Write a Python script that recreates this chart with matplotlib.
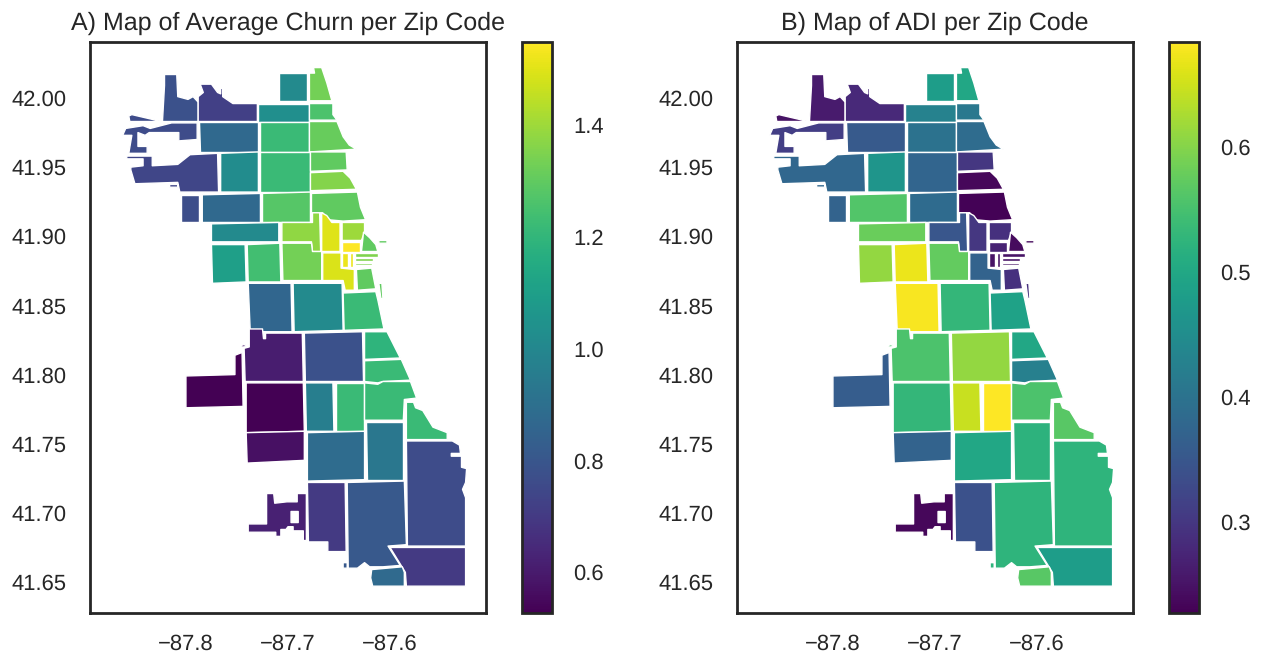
import matplotlib
matplotlib.use("Agg")
import matplotlib.pyplot as plt
from matplotlib.path import Path
from matplotlib.patches import PathPatch
from matplotlib.collections import PatchCollection
from matplotlib.colors import Normalize

plt.rcParams['font.family'] = ['Liberation Sans', 'DejaVu Sans']
plt.rcParams['text.hinting'] = 'no_hinting'
plt.rcParams['text.hinting_factor'] = 1

TITLE_A = "A) Map of Average Churn per Zip Code"
TITLE_B = "B) Map of ADI per Zip Code"
LON_TICKS = [-87.8, -87.7, -87.6]
LAT_TICKS = [41.65, 41.70, 41.75, 41.80, 41.85, 41.90, 41.95, 42.00]
CHURN_TICKS = [0.6, 0.8, 1.0, 1.2, 1.4]
ADI_TICKS = [0.3, 0.4, 0.5, 0.6]
LON_RANGE = (-87.894, -87.506)
LAT_RANGE = (41.6276, 42.0405)
CHURN_RANGE = (0.527, 1.548)
ADI_RANGE = (0.227, 0.684)

# Zone outlines as (longitude, latitude) rings; holes run the opposite way round.
zone_rings = [
 [[(-87.821,42.017),(-87.809,42.017),(-87.808,42.001),(-87.798,41.999),(-87.793,42.001),(-87.788,41.997),(-87.788,41.983),(-87.823,41.983),(-87.821,42.009)]],
 [[(-87.786,42.010),(-87.775,42.010),(-87.769,42.004),(-87.766,42.003),(-87.766,42.007),(-87.764,42.007),(-87.764,42.001),(-87.754,41.996),(-87.730,41.996),(-87.730,41.983),(-87.788,41.983),(-87.788,42.001),(-87.783,42.004)]],
 [[(-87.856,41.987),(-87.853,41.988),(-87.824,41.983),(-87.855,41.983)]],
 [[(-87.862,41.973),(-87.859,41.978),(-87.842,41.980),(-87.835,41.978),(-87.814,41.982),(-87.789,41.982),(-87.789,41.970),(-87.807,41.969),(-87.807,41.975),(-87.836,41.975),(-87.840,41.973),(-87.847,41.975),(-87.847,41.965),(-87.838,41.965),(-87.838,41.960),(-87.856,41.960),(-87.853,41.973)]],
 [[(-87.858,41.958),(-87.833,41.958),(-87.833,41.951),(-87.808,41.952),(-87.796,41.959),(-87.769,41.960),(-87.768,41.932),(-87.806,41.932),(-87.808,41.939),(-87.850,41.938),(-87.854,41.948),(-87.854,41.950),(-87.842,41.951),(-87.842,41.956),(-87.858,41.956)],
  [(-87.816,41.9375),(-87.808,41.9375),(-87.808,41.9355),(-87.816,41.9355)]],
 [[(-87.787,41.983),(-87.729,41.983),(-87.729,41.961),(-87.786,41.961)]],
 [[(-87.709,42.018),(-87.681,42.018),(-87.681,41.998),(-87.709,41.998)]],
 [[(-87.679,42.018),(-87.674,42.018),(-87.675,42.022),(-87.667,42.022),(-87.662,42.011),(-87.657,41.998),(-87.679,41.998)]],
 [[(-87.729,41.996),(-87.679,41.996),(-87.679,41.983),(-87.729,41.983)]],
 [[(-87.679,41.996),(-87.656,41.996),(-87.656,41.988),(-87.652,41.984),(-87.679,41.984)]],
 [[(-87.727,41.983),(-87.679,41.983),(-87.679,41.961),(-87.727,41.961)]],
 [[(-87.679,41.983),(-87.652,41.983),(-87.646,41.972),(-87.640,41.966),(-87.633,41.963),(-87.679,41.961)]],
 [[(-87.766,41.960),(-87.729,41.961),(-87.729,41.932),(-87.766,41.932)]],
 [[(-87.727,41.961),(-87.678,41.961),(-87.678,41.932),(-87.727,41.932)]],
 [[(-87.678,41.961),(-87.643,41.961),(-87.642,41.948),(-87.678,41.947)]],
 [[(-87.678,41.946),(-87.646,41.947),(-87.639,41.942),(-87.633,41.934),(-87.678,41.933)]],
 [[(-87.805,41.930),(-87.787,41.930),(-87.787,41.910),(-87.805,41.910)]],
 [[(-87.784,41.930),(-87.727,41.931),(-87.727,41.910),(-87.784,41.910)]],
 [[(-87.725,41.931),(-87.678,41.932),(-87.678,41.910),(-87.725,41.910)]],
 [[(-87.677,41.931),(-87.632,41.932),(-87.629,41.921),(-87.624,41.912),(-87.646,41.911),(-87.661,41.912),(-87.666,41.917),(-87.677,41.917)]],
 [[(-87.775,41.909),(-87.709,41.910),(-87.709,41.896),(-87.775,41.896)]],
 [[(-87.706,41.910),(-87.676,41.910),(-87.676,41.917),(-87.669,41.917),(-87.668,41.889),(-87.676,41.889),(-87.677,41.896),(-87.706,41.896)]],
 [[(-87.667,41.917),(-87.662,41.915),(-87.657,41.910),(-87.649,41.910),(-87.649,41.889),(-87.667,41.889)]],
 [[(-87.647,41.910),(-87.625,41.910),(-87.625,41.903),(-87.628,41.897),(-87.647,41.897)]],
 [[(-87.626,41.903),(-87.620,41.899),(-87.614,41.894),(-87.612,41.889),(-87.628,41.889)],
  [(-87.611,41.897),(-87.603,41.897),(-87.603,41.895),(-87.611,41.895)]],
 [[(-87.647,41.896),(-87.629,41.896),(-87.629,41.889),(-87.647,41.889)]],
 [[(-87.647,41.888),(-87.641,41.888),(-87.641,41.878),(-87.647,41.878)],
  [(-87.639,41.888),(-87.636,41.888),(-87.636,41.878),(-87.639,41.878)]],
 [[(-87.634,41.888),(-87.612,41.888),(-87.612,41.885),(-87.634,41.885)],
  [(-87.634,41.884),(-87.617,41.884),(-87.617,41.882),(-87.634,41.882)],
  [(-87.634,41.881),(-87.618,41.881),(-87.618,41.879),(-87.634,41.879)]],
 [[(-87.666,41.888),(-87.648,41.888),(-87.648,41.877),(-87.635,41.876),(-87.635,41.861),(-87.644,41.861),(-87.646,41.868),(-87.666,41.868)]],
 [[(-87.633,41.876),(-87.618,41.877),(-87.614,41.862),(-87.632,41.861)],
  [(-87.611,41.866),(-87.608,41.866),(-87.607,41.855),(-87.609,41.855)]],
 [[(-87.775,41.894),(-87.742,41.894),(-87.741,41.867),(-87.774,41.866)]],
 [[(-87.740,41.894),(-87.708,41.895),(-87.707,41.867),(-87.739,41.867)]],
 [[(-87.706,41.895),(-87.677,41.895),(-87.676,41.889),(-87.667,41.889),(-87.667,41.868),(-87.705,41.868)]],
 [[(-87.739,41.866),(-87.697,41.866),(-87.696,41.831),(-87.737,41.831)]],
 [[(-87.695,41.866),(-87.647,41.866),(-87.646,41.832),(-87.694,41.831)]],
 [[(-87.646,41.859),(-87.614,41.860),(-87.612,41.854),(-87.606,41.833),(-87.645,41.832)]],
 [[(-87.738,41.833),(-87.725,41.833),(-87.724,41.826),(-87.722,41.826),(-87.722,41.830),(-87.686,41.830),(-87.685,41.795),(-87.742,41.795),(-87.743,41.819),(-87.738,41.820)],
  [(-87.746,41.821),(-87.742,41.822),(-87.742,41.820),(-87.746,41.820)]],
 [[(-87.800,41.799),(-87.752,41.800),(-87.752,41.814),(-87.745,41.816),(-87.744,41.777),(-87.800,41.776)]],
 [[(-87.684,41.830),(-87.627,41.831),(-87.626,41.795),(-87.683,41.795)]],
 [[(-87.625,41.831),(-87.603,41.831),(-87.590,41.812),(-87.625,41.811)]],
 [[(-87.625,41.810),(-87.589,41.811),(-87.580,41.796),(-87.607,41.795),(-87.612,41.794),(-87.625,41.795)]],
 [[(-87.741,41.794),(-87.685,41.794),(-87.684,41.759),(-87.741,41.758)]],
 [[(-87.741,41.758),(-87.684,41.759),(-87.684,41.738),(-87.740,41.736)]],
 [[(-87.683,41.794),(-87.656,41.794),(-87.655,41.759),(-87.682,41.759)]],
 [[(-87.653,41.794),(-87.626,41.794),(-87.626,41.759),(-87.653,41.759)]],
 [[(-87.625,41.794),(-87.612,41.793),(-87.607,41.795),(-87.580,41.795),(-87.574,41.783),(-87.586,41.782),(-87.587,41.767),(-87.625,41.767)]],
 [[(-87.584,41.780),(-87.577,41.780),(-87.575,41.776),(-87.568,41.774),(-87.558,41.762),(-87.544,41.758),(-87.544,41.753),(-87.584,41.753)]],
 [[(-87.624,41.766),(-87.587,41.766),(-87.587,41.724),(-87.623,41.724)]],
 [[(-87.681,41.758),(-87.625,41.759),(-87.625,41.724),(-87.681,41.723)]],
 [[(-87.584,41.752),(-87.539,41.752),(-87.532,41.749),(-87.531,41.743),(-87.540,41.743),(-87.540,41.741),(-87.530,41.741),(-87.530,41.733),(-87.525,41.732),(-87.526,41.722),(-87.529,41.717),(-87.526,41.711),(-87.526,41.676),(-87.583,41.676)]],
 [[(-87.681,41.722),(-87.644,41.722),(-87.643,41.672),(-87.661,41.672),(-87.661,41.679),(-87.680,41.679)]],
 [[(-87.642,41.722),(-87.586,41.723),(-87.584,41.677),(-87.602,41.676),(-87.590,41.662),(-87.607,41.661),(-87.620,41.661),(-87.625,41.664),(-87.632,41.660),(-87.641,41.660)],
  [(-87.646,41.664),(-87.642,41.664),(-87.642,41.660),(-87.646,41.660)]],
 [[(-87.600,41.675),(-87.526,41.675),(-87.526,41.647),(-87.584,41.647),(-87.585,41.657)]],
 [[(-87.618,41.659),(-87.588,41.661),(-87.586,41.657),(-87.586,41.647),(-87.617,41.647),(-87.619,41.653)]],
 [[(-87.721,41.714),(-87.714,41.714),(-87.713,41.707),(-87.701,41.708),(-87.691,41.708),(-87.691,41.714),(-87.682,41.714),(-87.682,41.680),(-87.685,41.680),(-87.685,41.687),(-87.695,41.687),(-87.695,41.690),(-87.700,41.690),(-87.702,41.688),(-87.707,41.688),(-87.707,41.683),(-87.712,41.683),(-87.712,41.686),(-87.739,41.686),(-87.739,41.692),(-87.721,41.692)],
  [(-87.697,41.701),(-87.697,41.693),(-87.690,41.693),(-87.690,41.701)]],
]

churn = [0.78,0.72,0.76,0.76,0.74,0.87,1.01,1.33,1.03,1.26,1.22,1.31,1.02,1.22,1.30,1.36,
         0.77,0.87,1.28,1.30,1.01,1.38,1.50,1.40,1.30,1.548,1.52,1.35,1.49,1.30,1.10,1.24,
         1.33,0.86,1.01,1.22,0.61,0.53,0.78,1.19,1.22,0.53,0.57,0.96,1.22,1.22,1.22,0.93,
         0.885,0.76,0.70,0.81,0.70,0.875,0.62]
adi = [0.26,0.28,0.25,0.31,0.377,0.355,0.48,0.50,0.43,0.41,0.40,0.387,0.465,0.375,0.30,0.235,
       0.37,0.56,0.385,0.23,0.58,0.35,0.30,0.29,0.24,0.27,0.25,0.25,0.37,0.29,0.61,0.67,
       0.575,0.68,0.53,0.49,0.555,0.36,0.61,0.50,0.424,0.53,0.37,0.645,0.684,0.555,0.565,0.52,
       0.50,0.525,0.34,0.525,0.48,0.565,0.235]

W, H = 1264, 653
INK = '#262626'


def zone_path(rings):
    return Path.make_compound_path(*[Path(r + [r[0]], closed=True) for r in rings])


def panel(left, cb_left, values, vrange, title, cticks):
    ax = fig.add_axes([left / W, 1 - 613 / H, 396 / W, 571 / H])
    norm = Normalize(*vrange)
    patches = [PathPatch(zone_path(r)) for r in zone_rings]
    pc = PatchCollection(patches, cmap='viridis', norm=norm, edgecolor='white', linewidth=1.0)
    pc.set_array(values)
    ax.add_collection(pc)
    ax.set_xlim(*LON_RANGE)
    ax.set_ylim(*LAT_RANGE)
    ax.set_xticks(LON_TICKS)
    ax.set_yticks(LAT_TICKS)
    ax.set_yticklabels([f"{v:.2f}" for v in LAT_TICKS])
    ax.tick_params(length=0, labelsize=16, colors=INK)
    ax.tick_params(axis='x', pad=15)
    ax.tick_params(axis='y', pad=17)
    for s in ax.spines.values():
        s.set_color(INK)
        s.set_linewidth(2.0)
    ax.set_title(title, fontsize=18.2, color=INK, pad=9)
    cax = fig.add_axes([cb_left / W, 1 - 613 / H, 30 / W, 571 / H])
    cb = fig.colorbar(pc, cax=cax)
    cb.set_ticks(cticks)
    cb.ax.tick_params(length=0, labelsize=16, colors=INK, pad=15)
    cb.outline.set_edgecolor(INK)
    cb.outline.set_linewidth(2.0)


fig = plt.figure(figsize=(W / 100, H / 100), dpi=100, facecolor='white')
panel(90, 522, churn, CHURN_RANGE, TITLE_A, CHURN_TICKS)
panel(737, 1169, adi, ADI_RANGE, TITLE_B, ADI_TICKS)
fig.savefig('out.png', dpi=100)
